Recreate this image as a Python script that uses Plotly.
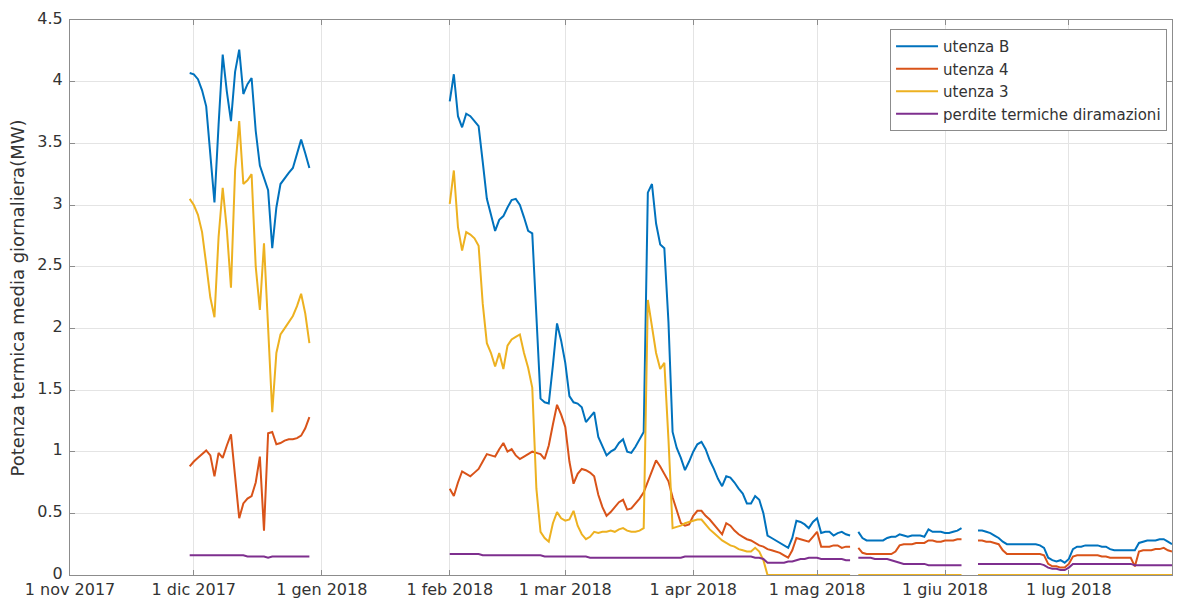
import pandas as pd
import plotly.graph_objects as go

# ---------------- data (daily means, MW) ----------------
seg_starts = ["2017-11-30", "2018-02-01", "2018-05-11", "2018-06-09"]

utenza_B = [
    # seg 1: 30 Nov - 29 Dec 2017
    [4.07, 4.06, 4.02, 3.93, 3.80, 3.40, 3.02, 3.65, 4.22, 3.92,
     3.68, 4.08, 4.26, 3.90, 3.98, 4.03, 3.60, 3.32, 3.22, 3.12,
     2.65, 2.98, 3.17, 3.22, 3.26, 3.30, 3.42, 3.53, 3.42, 3.30],
    # seg 2: 1 Feb - 9 May 2018
    [3.84, 4.06, 3.72, 3.63, 3.74, 3.72, 3.68, 3.64, 3.35, 3.05,
     2.92, 2.79, 2.88, 2.91, 2.98, 3.04, 3.05, 3.00, 2.90, 2.79,
     2.77, 2.10, 1.43, 1.40, 1.39, 1.70, 2.04, 1.90, 1.72, 1.45,
     1.40, 1.39, 1.36, 1.24, 1.28, 1.32, 1.12, 1.05, 0.97, 1.00,
     1.02, 1.07, 1.10, 1.00, 0.99, 1.04, 1.10, 1.16, 3.10, 3.17,
     2.85, 2.68, 2.65, 2.05, 1.16, 1.03, 0.95, 0.85, 0.92, 1.00,
     1.06, 1.08, 1.02, 0.93, 0.86, 0.78, 0.72, 0.80, 0.79, 0.75,
     0.70, 0.66, 0.58, 0.58, 0.64, 0.61, 0.50, 0.32, 0.30, 0.28,
     0.26, 0.24, 0.22, 0.30, 0.44, 0.43, 0.41, 0.38, 0.43, 0.46,
     0.34, 0.35, 0.35, 0.32, 0.34, 0.35, 0.33, 0.32],
    # seg 3: 11 May - 5 Jun 2018
    [0.35, 0.30, 0.28, 0.28, 0.28, 0.28, 0.28, 0.30, 0.31, 0.31,
     0.33, 0.32, 0.31, 0.32, 0.32, 0.32, 0.31, 0.37, 0.35, 0.35,
     0.35, 0.34, 0.34, 0.35, 0.36, 0.38],
    # seg 4: 9 Jun - 26 Jul 2018
    [0.36, 0.36, 0.35, 0.34, 0.32, 0.30, 0.27, 0.25, 0.25, 0.25,
     0.25, 0.25, 0.25, 0.25, 0.25, 0.24, 0.22, 0.14, 0.12, 0.11,
     0.12, 0.10, 0.13, 0.21, 0.23, 0.23, 0.24, 0.24, 0.24, 0.24,
     0.23, 0.23, 0.21, 0.20, 0.20, 0.20, 0.20, 0.20, 0.20, 0.26,
     0.27, 0.28, 0.28, 0.28, 0.29, 0.29, 0.27, 0.25],
]

utenza_4 = [
    [0.88, 0.92, 0.95, 0.98, 1.01, 0.97, 0.80, 0.99, 0.95, 1.05,
     1.14, 0.80, 0.46, 0.58, 0.62, 0.64, 0.75, 0.96, 0.36, 1.15,
     1.16, 1.06, 1.07, 1.09, 1.10, 1.10, 1.11, 1.13, 1.19, 1.28],
    [0.70, 0.64, 0.75, 0.84, 0.82, 0.80, 0.83, 0.86, 0.92, 0.98,
     0.97, 0.96, 1.02, 1.07, 1.00, 1.02, 0.97, 0.94, 0.96, 0.98,
     1.00, 0.99, 0.98, 0.94, 1.05, 1.22, 1.38, 1.30, 1.20, 0.92,
     0.74, 0.82, 0.86, 0.85, 0.83, 0.80, 0.65, 0.55, 0.48, 0.51,
     0.55, 0.59, 0.61, 0.53, 0.54, 0.58, 0.62, 0.67, 0.76, 0.85,
     0.93, 0.88, 0.82, 0.76, 0.63, 0.52, 0.42, 0.40, 0.41, 0.48,
     0.52, 0.52, 0.48, 0.45, 0.41, 0.37, 0.33, 0.42, 0.40, 0.36,
     0.33, 0.31, 0.29, 0.28, 0.26, 0.24, 0.23, 0.21, 0.20, 0.19,
     0.18, 0.16, 0.14, 0.20, 0.30, 0.29, 0.28, 0.27, 0.31, 0.35,
     0.23, 0.23, 0.23, 0.24, 0.24, 0.22, 0.23, 0.23],
    [0.22, 0.18, 0.17, 0.17, 0.17, 0.17, 0.17, 0.17, 0.17, 0.19,
     0.24, 0.25, 0.25, 0.25, 0.26, 0.26, 0.26, 0.28, 0.28, 0.27,
     0.27, 0.28, 0.28, 0.28, 0.29, 0.29],
    [0.28, 0.28, 0.27, 0.27, 0.26, 0.25, 0.20, 0.17, 0.17, 0.17,
     0.17, 0.17, 0.17, 0.17, 0.17, 0.17, 0.16, 0.09, 0.07, 0.07,
     0.06, 0.06, 0.09, 0.15, 0.16, 0.16, 0.16, 0.16, 0.16, 0.16,
     0.15, 0.15, 0.14, 0.14, 0.14, 0.14, 0.14, 0.14, 0.07, 0.19,
     0.20, 0.20, 0.20, 0.21, 0.21, 0.22, 0.20, 0.19],
]

utenza_3 = [
    [3.05, 3.00, 2.92, 2.78, 2.52, 2.25, 2.09, 2.74, 3.14, 2.80,
     2.33, 3.28, 3.68, 3.17, 3.20, 3.25, 2.50, 2.15, 2.69, 2.04,
     1.32, 1.80, 1.95, 2.00, 2.05, 2.10, 2.18, 2.28, 2.12, 1.88],
    [3.01, 3.28, 2.82, 2.63, 2.78, 2.76, 2.73, 2.67, 2.20, 1.88,
     1.80, 1.69, 1.80, 1.67, 1.86, 1.91, 1.93, 1.95, 1.80, 1.68,
     1.52, 0.70, 0.35, 0.30, 0.27, 0.42, 0.51, 0.46, 0.44, 0.45,
     0.52, 0.40, 0.33, 0.29, 0.31, 0.35, 0.34, 0.35, 0.35, 0.36,
     0.35, 0.37, 0.38, 0.36, 0.35, 0.35, 0.36, 0.38, 2.23, 2.00,
     1.80, 1.67, 1.72, 1.10, 0.38, 0.39, 0.40, 0.42, 0.43, 0.44,
     0.45, 0.45, 0.41, 0.37, 0.34, 0.31, 0.28, 0.26, 0.24, 0.23,
     0.21, 0.20, 0.19, 0.19, 0.22, 0.19, 0.12, 0.00, 0.00, 0.00,
     0.00, 0.00, 0.00, 0.00, 0.00, 0.00, 0.00, 0.00, 0.00, 0.00,
     0.00, 0.00, 0.00, 0.00, 0.00, 0.00, 0.00, 0.00],
    [0.00] * 26,
    [0.00] * 48,
]

perdite = [
    [0.16, 0.16, 0.16, 0.16, 0.16, 0.16, 0.16, 0.16, 0.16, 0.16,
     0.16, 0.16, 0.16, 0.16, 0.15, 0.15, 0.15, 0.15, 0.15, 0.14,
     0.15, 0.15, 0.15, 0.15, 0.15, 0.15, 0.15, 0.15, 0.15, 0.15],
    [0.17, 0.17, 0.17, 0.17, 0.17, 0.17, 0.17, 0.17, 0.16, 0.16,
     0.16, 0.16, 0.16, 0.16, 0.16, 0.16, 0.16, 0.16, 0.16, 0.16,
     0.16, 0.16, 0.16, 0.15, 0.15, 0.15, 0.15, 0.15, 0.15, 0.15,
     0.15, 0.15, 0.15, 0.15, 0.14, 0.14, 0.14, 0.14, 0.14, 0.14,
     0.14, 0.14, 0.14, 0.14, 0.14, 0.14, 0.14, 0.14, 0.14, 0.14,
     0.14, 0.14, 0.14, 0.14, 0.14, 0.14, 0.14, 0.15, 0.15, 0.15,
     0.15, 0.15, 0.15, 0.15, 0.15, 0.15, 0.15, 0.15, 0.15, 0.15,
     0.15, 0.15, 0.15, 0.15, 0.14, 0.14, 0.13, 0.10, 0.10, 0.10,
     0.10, 0.10, 0.11, 0.11, 0.12, 0.13, 0.13, 0.14, 0.14, 0.14,
     0.13, 0.13, 0.13, 0.13, 0.13, 0.13, 0.12, 0.12],
    [0.14, 0.14, 0.14, 0.14, 0.13, 0.13, 0.13, 0.13, 0.12, 0.11,
     0.10, 0.09, 0.09, 0.09, 0.09, 0.09, 0.09, 0.08, 0.08, 0.08,
     0.08, 0.08, 0.08, 0.08, 0.08, 0.08],
    [0.09, 0.09, 0.09, 0.09, 0.09, 0.09, 0.09, 0.09, 0.09, 0.09,
     0.09, 0.09, 0.09, 0.09, 0.09, 0.09, 0.08, 0.06, 0.05, 0.05,
     0.04, 0.04, 0.06, 0.09, 0.09, 0.09, 0.09, 0.09, 0.09, 0.09,
     0.09, 0.09, 0.09, 0.09, 0.09, 0.09, 0.09, 0.09, 0.08, 0.08,
     0.08, 0.08, 0.08, 0.08, 0.08, 0.08, 0.08, 0.08],
]

series_names = ["utenza B", "utenza 4", "utenza 3", "perdite termiche diramazioni"]
series_data = [utenza_B, utenza_4, utenza_3, perdite]
colors = ["#0072BD", "#D95319", "#EDB120", "#7E2F8E"]

tick_dates = ["2017-11-01", "2017-12-01", "2018-01-01", "2018-02-01", "2018-03-01",
              "2018-04-01", "2018-05-01", "2018-06-01", "2018-07-01"]
tick_labels = ["1 nov 2017", "1 dic 2017", "1 gen 2018", "1 feb 2018", "1 mar 2018",
               "1 apr 2018", "1 mag 2018", "1 giu 2018", "1 lug 2018"]
y_ticks = [0, 0.5, 1, 1.5, 2, 2.5, 3, 3.5, 4, 4.5]
y_tick_labels = ["0", "0.5", "1", "1.5", "2", "2.5", "3", "3.5", "4", "4.5"]
y_title = "Potenza termica media giornaliera(MW)"


def build(segments):
    xs, ys = [], []
    for start, vals in zip(seg_starts, segments):
        dates = pd.date_range(start, periods=len(vals), freq="D")
        xs.extend(dates.strftime("%Y-%m-%d").tolist())
        ys.extend(vals)
        xs.append(None)
        ys.append(None)
    return xs, ys


fig = go.Figure()
for name, segs, col in zip(series_names, series_data, colors):
    x, y = build(segs)
    fig.add_trace(go.Scatter(x=x, y=y, mode="lines", name=name,
                             line=dict(color=col, width=2), connectgaps=False))

FONT = "DejaVu Sans, Liberation Sans, Arial, sans-serif"
AX = "#8c8c8c"
GRID = "#e4e4e4"
TXT = "#333333"

fig.update_layout(
    width=1177, height=605,
    margin=dict(l=70, r=5, t=20, b=30),
    paper_bgcolor="white", plot_bgcolor="white",
    font=dict(family=FONT, size=16, color=TXT),
    legend=dict(x=0.9955, y=0.9838, xanchor="right", yanchor="top",
                bgcolor="white", bordercolor="#8c8c8c", borderwidth=1,
                font=dict(size=15, color=TXT), itemwidth=42,
                tracegroupgap=0),
    xaxis=dict(type="date", range=["2017-11-01", "2018-07-26"],
               tickmode="array", tickvals=tick_dates, ticktext=tick_labels,
               showgrid=True, gridcolor=GRID, gridwidth=1,
               showline=True, linecolor=AX, linewidth=1, mirror="ticks",
               ticks="inside", ticklen=5, tickcolor=AX, zeroline=False,
               tickfont=dict(size=16), automargin=False, ticklabelstandoff=0),
    yaxis=dict(range=[0, 4.5], tickmode="array", tickvals=y_ticks, ticktext=y_tick_labels,
               showgrid=True, gridcolor=GRID, gridwidth=1,
               showline=True, linecolor=AX, linewidth=1, mirror="ticks",
               ticks="inside", ticklen=5, tickcolor=AX, zeroline=False,
               tickfont=dict(size=16), automargin=False, ticklabelstandoff=3,
               ticklabelshift=-2),
    annotations=[dict(text=y_title, xref="paper", yref="paper",
                      x=-0.0472, y=0.5, xanchor="center", yanchor="middle",
                      textangle=-90, showarrow=False,
                      font=dict(size=18, color=TXT))],
)

fig.write_html(
    "out.html",
    config={"displayModeBar": False},
    post_script="document.body.style.margin='0px';document.body.style.padding='0px';"
                "document.documentElement.style.overflow='hidden';",
)
